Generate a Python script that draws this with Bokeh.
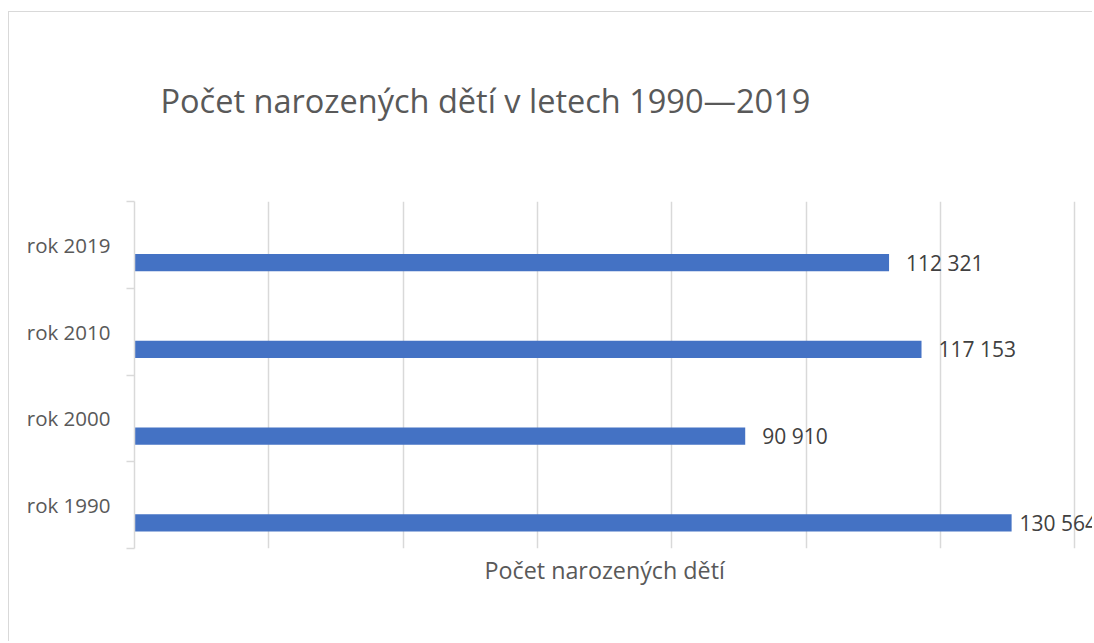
from bokeh.plotting import figure
from bokeh.models import Range1d, FixedTicker, ColumnDataSource, Title
from bokeh.transform import dodge
from bokeh.core.properties import value
from bokeh.embed import file_html
from bokeh.resources import INLINE

# ---- data ----
categories = ["rok 1990", "rok 2000", "rok 2010", "rok 2019"]
births = [130564, 90910, 117153, 112321]
value_labels = ["130 564", "90 910", "117 153", "112 321"]
x_grid_ticks = [20000, 40000, 60000, 80000, 100000, 120000, 140000]

chart_title = "Počet narozených dětí v letech 1990—2019"
axis_title = "Počet narozených dětí"

# ---- style ----
FONT = "Open Sans"
GRID = "#d9d9d9"
TEXT = "#595959"
BAR = "#4472C4"

pos = list(range(len(categories)))
# label next to the longest bar sits closer to it (as in the original chart)
label_offsets = [8 if v == max(births) else 17 for v in births]
source = ColumnDataSource(dict(pos=pos, births=births, label=value_labels,
                               xoff=label_offsets))

p = figure(width=1084, height=630, output_backend="svg", toolbar_location=None,
           x_range=Range1d(0, 142754),
           y_range=Range1d(-0.5, len(categories) - 0.5),
           min_border_left=125, min_border_right=0,
           min_border_top=189, min_border_bottom=94)
p.outline_line_color = None
p.background_fill_color = "white"
p.border_fill_color = "white"
p.styles = {"margin-left": "8px", "margin-top": "11px",
            "border-left": "1.5px solid #d9d9d9",
            "border-top": "1.5px solid #d9d9d9"}

p.hbar(y=dodge("pos", -0.205), left=0, right="births", height=0.2,
       fill_color=BAR, line_color=None, source=source)
p.text(x="births", y=dodge("pos", -0.205), text="label", x_offset="xoff",
       text_align="left", text_baseline="middle",
       text_font=value(FONT), text_font_size="21px", text_color="#404040",
       source=source)

# y axis: labels at category centres, small ticks at the category boundaries
yaxis = p.yaxis[0]
yaxis.ticker = FixedTicker(ticks=pos,
                           minor_ticks=[i - 0.5 for i in range(len(categories) + 1)])
yaxis.major_label_overrides = {i: c for i, c in enumerate(categories)}
yaxis.major_tick_out = 0
yaxis.major_tick_in = 0
yaxis.minor_tick_out = 8
yaxis.minor_tick_in = 0
yaxis.minor_tick_line_color = GRID
yaxis.minor_tick_line_width = 1.5
yaxis.axis_line_color = GRID
yaxis.axis_line_width = 1.5
yaxis.major_label_text_font = FONT
yaxis.major_label_text_font_size = "20.5px"
yaxis.major_label_text_color = TEXT
yaxis.major_label_standoff = 16
p.ygrid.visible = False

# x axis: no ticks/labels, only vertical gridlines
p.xaxis.visible = False
p.xgrid.ticker = FixedTicker(ticks=x_grid_ticks)
p.xgrid.grid_line_color = GRID
p.xgrid.grid_line_width = 1.5

p.add_layout(Title(text=axis_title, align="left", offset=350, standoff=10,
                   text_font=FONT, text_font_size="23.3px", text_font_style="normal",
                   text_color=TEXT, vertical_align="top"), "below")

title = Title(text=chart_title, align="left", offset=26, standoff=10,
              text_font=FONT, text_font_size="32.5px", text_font_style="normal",
              text_color=TEXT)
padded = False
if "padding" in Title.properties():
    try:
        title.padding = dict(left=0, right=0, top=0, bottom=74)
        padded = True
    except Exception:
        try:
            title.padding = (0, 0, 0, 74)
            padded = True
        except Exception:
            padded = False
if not padded:
    # blank spacer between the plot area and the chart title
    p.add_layout(Title(text=".", standoff=71, text_font_size="10px",
                       text_color="white"), "above")
p.add_layout(title, "above")

open("out.html", "w").write(file_html(p, INLINE))
